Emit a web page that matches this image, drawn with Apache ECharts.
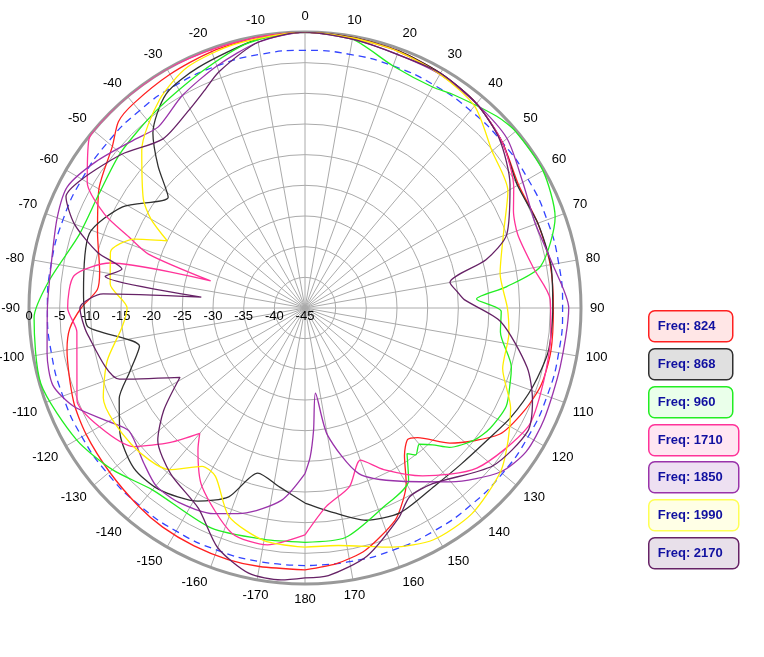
<!DOCTYPE html>
<html><head><meta charset="utf-8">
<script src="https://cdn.jsdelivr.net/npm/echarts@6/dist/echarts.min.js"></script>
<style>html,body{margin:0;padding:0;background:#fff}#c{width:764px;height:657px}</style>
</head><body><div id="c"></div>
<script>
const FREQS = ['824','868','960','1710','1850','1990','2170'];
const LINE_COLORS = ['#ff2020','#303030','#22ee22','#ff3399','#9933aa','#ffee00','#662266'];
const FILL_COLORS = ['#ffe6e6','#e0e0e0','#eaffea','#ffe6f2','#eee0f2','#ffffe6','#e8e0ea'];
const RADIAL_TICKS = [-45,-40,-35,-30,-25,-20,-15,-10,-5,0];
const REF_LEVEL = -3;
const REF_ANGLES = [-180,-170,-160,-150,-140,-130,-120,-110,-100,-90,-80,-70,-60,-50,-40,-30,-20,-10,0,10,20,30,40,50,60,70,80,90,100,110,120,130,140,150,160,170,180];

const ang824 = [-180,-170,-163,-155,-147,-140,-130,-120,-112,-100,-95,-90,-85,-80,-70,-60,-50,-45,-40,-30,-20,-10,0,10,20,30,40,50,60,70,80,90,100,108,115,123,133,139,142,146,150,153,157,166,173,180];
const db824  = [-2.3,-2.2,-2.1,-2.2,-2.4,-2.8,-3.4,-3.8,-4.3,-5.6,-6.5,-8.5,-11,-11,-9,-6.2,-4,-2,-1.5,-1,-0.5,-0.2,0,-0.2,-0.4,-0.8,-1.5,-3,-4.8,-4.6,-4.4,-4.5,-4.3,-4.5,-5.5,-7.2,-12.7,-17,-17.8,-16,-12,-9.8,-7.4,-4.3,-3,-2.3];

const ang868 = [-180,-172,-164,-158,-151,-141,-133,-124,-116,-110,-103,-95,-90,-86,-71,-61,-51,-46,-41,-33,-24,-10,0,10,20,30,40,50,60,70,80,90,100,109,118,126,135,144,155,164,172,180];
const db868  = [-13.2,-15.5,-17,-11.8,-9,-7,-6.8,-8.6,-11.3,-14.6,-17.3,-9.5,-9,-8.8,-7.8,-11,-16.3,-11.7,-7.2,-3.4,-2.1,-0.5,0,-0.2,-0.4,-0.8,-1.5,-3,-5,-4.6,-4.3,-4.6,-4.7,-5.7,-7,-8.3,-9,-9.1,-8.2,-9,-11.3,-13.2];

const ang960 = [-180,-170,-157,-140,-130,-120,-106,-92,-84,-72,-61,-50,-37,-24,-12,0,10,20,30,35,45,50,60,70,80,84,87,91,97,106,110,116,123,128,134,137,140,143,145,149,159,170,180];
const db960  = [-6.8,-6.7,-6,-6.3,-4,-2,-0.2,-0.8,-3,-6.3,-6.6,-5.7,-4.7,-3,-0.8,0,-0.5,-3,-3.4,-2.6,-0.8,-0.2,-0.2,-1.6,-6,-12,-17,-13,-12.9,-10,-9.4,-8.5,-9,-10,-12.3,-14.5,-16,-15,-16,-12.2,-10,-7,-6.8];

const ang1710 = [-180,-171,-162,-150,-143,-140,-135,-129,-120,-112,-96,-90,-82,-77,-74,-71,-68,-65,-60,-52,-46,-40,-30,-20,-10,0,10,20,30,40,50,60,65,71,80,88,96,107,118,133,145,154,160,166,174,180];
const db1710  = [-8,-5.9,-6.4,-11.4,-16,-18.3,-14,-9.1,-6.3,-4.9,-7.6,-6.3,-7,-12.4,-29,-18,-14,-9,-4,-0.3,0,0,0,-0.2,-0.2,0,-0.3,-0.5,-1,-1.5,-3,-5.7,-7.5,-8.3,-7.2,-5,-4.7,-4.3,-3.8,-6.7,-11.6,-15.7,-18.6,-15,-12.4,-8];

const ang1850 = [-180,-173,-163,-156,-147,-140,-134,-125,-120,-113,-107,-100,-90,-80,-70,-63,-55,-45,-39,-30,-20,-10,0,10,20,30,40,50,60,70,80,90,103,115,123,130,140,151,162,170,173,176,178,180];
const db1850  = [-18,-13.4,-10,-8.3,-7.2,-7.2,-8.5,-10,-8,-4,-2,-2.3,-3,-3,-2,-1.5,-3.4,-6,-7,-5,-3,-1,0,-0.5,-1,-1,-1.5,-2,-4,-5,-4,-2,-2.3,-2,-2,-3.4,-8,-12.7,-16.6,-24,-31,-25,-20.7,-18];

const ang1990 = [-180,-170,-160,-152,-147,-140,-128,-114,-105,-96,-90,-83,-74,-68,-64,-60,-56,-46,-35,-26,-15,0,10,20,30,40,50,60,69,80,90,97,107,116,123,130,141,151,160,172,180];
const db1990  = [-6,-6.5,-8.8,-13.9,-14.2,-10.6,-9,-9,-11.6,-15,-16,-13,-12,-15,-20,-16,-13.2,-8,-3.6,-1.3,-0.5,0,-0.3,-0.5,-1,-2,-5.2,-6.8,-10.3,-12.7,-12,-11.5,-11.3,-7.7,-5.5,-3.4,-1.8,-1.8,-3.5,-5.9,-6];

const ang2170 = [-180,-175,-168,-160,-152,-141,-132,-126,-119,-111,-97,-90,-86,-84,-81,-78,-75,-70,-65,-60,-50,-40,-30,-25,-20,-10,0,10,20,30,40,49,59,70,75,80,84,87,94,105,112,119,130,144,151,156,166,175,180];
const db2170  = [-1,-0.5,-0.8,-3.4,-8,-10.2,-12.7,-16.5,-21.7,-12.6,-9.3,-8.3,-12,-28,-12,-14.5,-10,-5,-2,-3,-6,-9,-7.5,-6,-4,-1,0,-0.5,-1,-0.8,-1.5,-3,-6,-10,-14.4,-21,-20,-19,-13,-7.5,-5,-3.5,-5,-9.6,-9.8,-7.5,-3.3,-1.2,-1];

const ANGLES = [ang824,ang868,ang960,ang1710,ang1850,ang1990,ang2170];
const VALUES = [db824,db868,db960,db1710,db1850,db1990,db2170];

const toAxis = t => ((t + 90) % 360 + 360) % 360;
const chart = echarts.init(document.getElementById('c'));
const series = FREQS.map((f,i) => ({
  type:'line', coordinateSystem:'polar', name:'Freq: '+f, showSymbol:false, smooth:0.25,
  lineStyle:{color:LINE_COLORS[i], width:1.3}, z:3+i,
  data: ANGLES[i].map((a,k) => [VALUES[i][k], toAxis(a)])
}));
series.unshift({
  type:'line', coordinateSystem:'polar', showSymbol:false, smooth:true, z:2,
  lineStyle:{color:'#3344ff', width:1.3, type:[7,5]},
  data: REF_ANGLES.map(a => [REF_LEVEL, toAxis(a)])
});
const legendY = [310,348,386,424,461,499,537];
const graphics = FREQS.map((f,i) => ({
  type:'group', left:648, top:legendY[i], children:[
    {type:'rect', shape:{x:0,y:0,width:i<3?84:90,height:31,r:6},
     style:{fill:FILL_COLORS[i], stroke:LINE_COLORS[i]==='#ffee00'?'#ffff55':LINE_COLORS[i], lineWidth:1.5}},
    {type:'text', style:{x:9,y:9,text:'Freq: '+f,fill:'#1010a0',font:'bold 13px "Liberation Sans", Arial, sans-serif'}}
  ]}));
chart.setOption({
  animation:false,
  polar:{center:[305,308], radius:276},
  angleAxis:{type:'value', min:0, max:360, interval:10, startAngle:180, clockwise:true,
    axisLine:{lineStyle:{color:'#999', width:3}}, axisTick:{show:false},
    splitLine:{lineStyle:{color:'#aaa', width:1}},
    axisLabel:{color:'#000', fontSize:13, fontFamily:'Liberation Sans', margin:9,
      formatter:v => { if (v===360) return ''; let t=v-90; if(t>180) t-=360; return String(t); }}},
  radiusAxis:{type:'value', min:RADIAL_TICKS[0], max:RADIAL_TICKS[RADIAL_TICKS.length-1], interval:5,
    axisLine:{show:false}, axisTick:{show:false},
    splitLine:{lineStyle:{color:'#aaa', width:1}},
    axisLabel:{color:'#000', fontSize:13, fontFamily:'Liberation Sans', margin:2}},
  series, graphic:graphics
});
</script></body></html>
